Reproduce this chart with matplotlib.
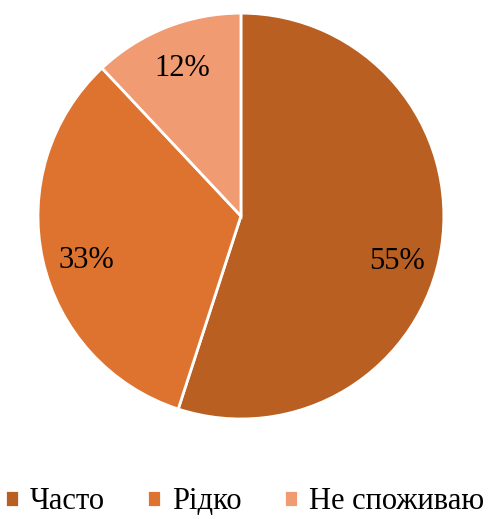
import matplotlib
matplotlib.use("Agg")
import matplotlib.pyplot as plt

labels = ["Часто", "Рідко", "Не споживаю"]
values = [55, 33, 12]
colors = ["#B95F22", "#DE7330", "#F09B72"]
# small vertical nudges for the % labels (in radius units), like Excel's best fit
label_nudge = [-0.1, -0.05, 0.0]

plt.rcParams["font.family"] = ["Liberation Serif", "DejaVu Serif"]

fig = plt.figure(figsize=(4.89, 5.19), dpi=100)
ax = fig.add_axes([0.0777, 0.1927, 0.830, 0.782])
wedges, texts, autotexts = ax.pie(
    values, colors=colors, startangle=90, counterclock=False,
    autopct=lambda p: f"{p:.0f}%", pctdistance=0.78,
    wedgeprops=dict(edgecolor="white", linewidth=2),
    textprops=dict(fontsize=22, color="black"),
)
for t, dy in zip(autotexts, label_nudge):
    x, y = t.get_position()
    t.set_position((x, y + dy))
ax.set_aspect("auto")
ax.set_xlim(-1, 1)
ax.set_ylim(-1, 1)

fig.legend(wedges, labels, loc="center", bbox_to_anchor=(0.5, 0.033),
           ncol=3, frameon=False, fontsize=22, handlelength=0.45,
           handleheight=0.45, handletextpad=0.35, columnspacing=1.4)

fig.savefig("out.png", dpi=100)
